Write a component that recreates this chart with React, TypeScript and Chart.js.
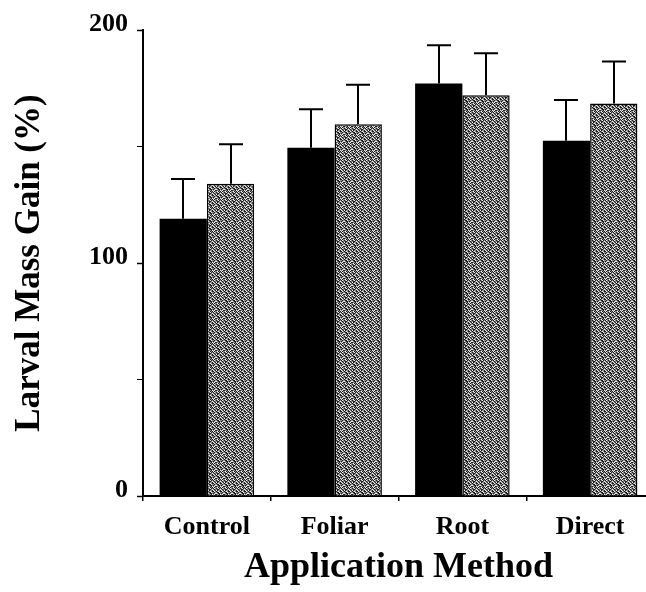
import React, { useEffect, useRef } from "react";
import { Chart, registerables } from "chart.js";
Chart.register(...registerables);

const categories = ["Control", "Foliar", "Root", "Direct"];
const blackValues = [119, 149.5, 177, 152.5];
const blackErrors = [17, 16.5, 16.5, 17.5];
const grayValues = [134, 159.5, 172, 168.5];
const grayErrors = [17, 17, 18, 18];
const yMin = 0;
const yMax = 200;
const yStep = 50;
const yLabelEvery = 100;
const xTitle = "Application Method";
const yTitle = "Larval Mass Gain (%)";

const FONT = "'Liberation Serif', 'Times New Roman', serif";

// deterministic stipple texture for the grey bars
const STIPPLE = [
  "21021201",
  "12210121",
  "02112012",
  "21012201",
  "12201121",
  "01221210",
  "21120102",
  "10212021",
];
const SHADES = ["#f0f0f0", "#8c8c8c", "#1a1a1a"];

function makePattern(): CanvasPattern | string {
  const c = document.createElement("canvas");
  c.width = 8;
  c.height = 8;
  const ctx = c.getContext("2d");
  if (!ctx) return "#888";
  for (let y = 0; y < 8; y++) {
    for (let x = 0; x < 8; x++) {
      ctx.fillStyle = SHADES[Number(STIPPLE[y][x])];
      ctx.fillRect(x, y, 1, 1);
    }
  }
  const p = ctx.createPattern(c, "repeat");
  return p || "#888";
}

const errorBarPlugin = {
  id: "errorBars",
  afterDatasetsDraw(chart: any) {
    const ctx = chart.ctx;
    const yScale = chart.scales.y;
    const errs = [blackErrors, grayErrors];
    ctx.save();
    ctx.strokeStyle = "#000";
    ctx.lineWidth = 2;
    chart.data.datasets.forEach((ds: any, i: number) => {
      const meta = chart.getDatasetMeta(i);
      meta.data.forEach((bar: any, j: number) => {
        const v = ds.data[j];
        const top = yScale.getPixelForValue(v + errs[i][j]);
        const x = Math.round(bar.x);
        ctx.beginPath();
        ctx.moveTo(x, bar.y);
        ctx.lineTo(x, top);
        ctx.moveTo(x - 12, top);
        ctx.lineTo(x + 12, top);
        ctx.stroke();
      });
    });
    ctx.restore();
  },
};

export default function App() {
  const ref = useRef<HTMLCanvasElement | null>(null);
  useEffect(() => {
    if (!ref.current) return;
    document.body.style.margin = "0";
    document.body.style.overflow = "hidden";
    const pattern = makePattern();
    const chart = new Chart(ref.current, {
      type: "bar",
      data: {
        labels: categories,
        datasets: [
          {
            label: "A",
            data: blackValues,
            backgroundColor: "#000",
            borderWidth: 0,
            categoryPercentage: 0.74,
            barPercentage: 1,
          },
          {
            label: "B",
            data: grayValues,
            backgroundColor: pattern as any,
            borderColor: "#000",
            borderWidth: 1.5,
            categoryPercentage: 0.74,
            barPercentage: 1,
          },
        ],
      },
      options: {
        responsive: false,
        animation: false,
        devicePixelRatio: 1,
        layout: { padding: { top: 30, right: 2, left: 0, bottom: 0 } },
        plugins: {
          legend: { display: false },
          tooltip: { enabled: false },
        },
        scales: {
          x: {
            grid: {
              display: true,
              drawOnChartArea: false,
              offset: true,
              tickLength: 5,
              color: "#000",
              lineWidth: 1.5,
            },
            border: { display: true, color: "#000", width: 2 },
            ticks: {
              color: "#000",
              padding: 11,
              font: { family: FONT, size: 26, weight: "bold" },
            },
            title: {
              display: true,
              text: xTitle,
              color: "#000",
              font: { family: FONT, size: 36, weight: "bold", lineHeight: 1 },
              padding: { top: 0, bottom: 6 },
            },
            afterFit: (s: any) => {
              s.height = 96;
            },
          },
          y: {
            min: yMin,
            max: yMax,
            grid: {
              display: true,
              drawOnChartArea: false,
              tickLength: 6,
              color: "#000",
              tickWidth: (c: any) => (c.tick && c.tick.value % yLabelEvery === 0 ? 1.5 : 1),
            },
            border: { display: true, color: "#000", width: 2 },
            ticks: {
              stepSize: yStep,
              color: "#000",
              padding: 9,
              labelOffset: -6,
              font: { family: FONT, size: 26, weight: "bold" },
              callback: (v: any) => (Number(v) % yLabelEvery === 0 ? String(v) : ""),
            },
            title: {
              display: true,
              text: yTitle,
              color: "#000",
              font: { family: FONT, size: 35, weight: "bold", lineHeight: 1 },
              padding: { top: 12, bottom: 0 },
            },
            afterFit: (s: any) => {
              s.width = 143;
            },
          },
        },
      },
      plugins: [errorBarPlugin],
    });
    return () => chart.destroy();
  }, []);
  return (
    <div style={{ position: "fixed", left: 0, top: 0, width: 646, height: 592, overflow: "hidden", background: "#fff" }}>
      <canvas ref={ref} width={656} height={592} style={{ width: 656, height: 592, display: "block" }} />
    </div>
  );
}
